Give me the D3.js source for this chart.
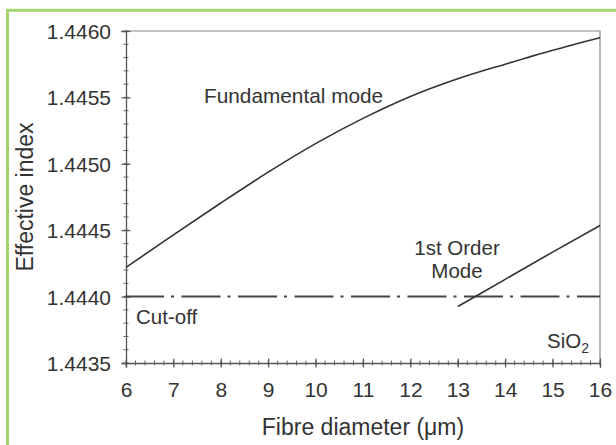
<!DOCTYPE html>
<html>
<head>
<meta charset="utf-8">
<script src="https://d3js.org/d3.v7.min.js"></script>
<style>
  body { margin: 0; background: #fff; }
  svg { display: block; }
  text { font-family: "Liberation Sans", Arial, sans-serif; fill: #333; }
</style>
</head>
<body>
<svg id="frame"></svg>
<script>
  // values
  var diameter = [6, 7, 8, 9, 10, 11, 12, 13, 14, 15, 16];
  var fundamental = [1.44422, 1.444465, 1.444705, 1.444937, 1.445152, 1.445342,
                     1.445507, 1.44564, 1.44575, 1.445855, 1.44595];
  var firstOrderDiameter = [13, 14, 15, 16];
  var firstOrder = [1.443925, 1.44413, 1.444335, 1.444535];
  var cutoff = 1.4440;
  var xTicks = [6, 7, 8, 9, 10, 11, 12, 13, 14, 15, 16];
  var yTicks = [1.4435, 1.4440, 1.4445, 1.4450, 1.4455, 1.4460];

  var width = 616, height = 445;
  var margin = {top: 31, right: 16, bottom: 82, left: 126};
  var svg = d3.select('#frame').attr('width', width).attr('height', height);

  // green border of the figure box
  svg.append('rect')
    .attr('x', 7.5).attr('y', 10.3)
    .attr('width', 700).attr('height', 600)
    .attr('fill', 'none')
    .attr('stroke', '#a6d46c')
    .attr('stroke-width', 3);

  var x = d3.scaleLinear().domain([6, 16]).range([margin.left, width - margin.right]);
  var y = d3.scaleLinear().domain([1.4435, 1.4460]).range([height - margin.bottom, margin.top]);

  // top and right frame
  svg.append('path')
    .attr('d', 'M' + x(6) + ',' + y(1.4460) + 'H' + x(16) + 'V' + y(1.4435))
    .attr('fill', 'none')
    .attr('stroke', '#888')
    .attr('stroke-width', 1.2);

  // minor ticks
  var xMinor = d3.range(6, 16.001, 0.2);
  var yMinor = d3.range(1.4435, 1.44601, 0.0001);

  svg.append('g').selectAll('line').data(xMinor).enter().append('line')
    .attr('x1', function(d){ return x(d); }).attr('x2', function(d){ return x(d); })
    .attr('y1', y(1.4435) - 2.5).attr('y2', y(1.4435) + 2.5)
    .attr('stroke', '#666').attr('stroke-width', 1);

  svg.append('g').selectAll('line').data(yMinor).enter().append('line')
    .attr('y1', function(d){ return y(d); }).attr('y2', function(d){ return y(d); })
    .attr('x1', x(6) - 2.5).attr('x2', x(6) + 2.5)
    .attr('stroke', '#666').attr('stroke-width', 1);

  // axes
  var xAxis = svg.append('g')
    .attr('transform', 'translate(0,' + y(1.4435) + ')')
    .call(d3.axisBottom(x).tickValues(xTicks).tickSize(4.5).tickPadding(0).tickFormat(d3.format('d')));
  xAxis.selectAll('line').attr('y1', -4.5).attr('stroke', '#555').attr('stroke-width', 1.2);
  xAxis.select('.domain').attr('stroke', '#555').attr('stroke-width', 1.3);
  xAxis.selectAll('text')
    .attr('y', 34).attr('dy', null)
    .style('font-size', '21px')
    .attr('fill', '#333');

  var yAxis = svg.append('g')
    .attr('transform', 'translate(' + x(6) + ',0)')
    .call(d3.axisLeft(y).tickValues(yTicks).tickSize(4.5).tickPadding(0).tickFormat(d3.format('.4f')));
  yAxis.selectAll('line').attr('x1', 4.5).attr('stroke', '#555').attr('stroke-width', 1.2);
  yAxis.select('.domain').attr('stroke', '#555').attr('stroke-width', 1.3);
  yAxis.selectAll('text')
    .attr('x', -15).attr('dy', '0.36em')
    .style('font-size', '21px')
    .attr('fill', '#333');

  // cut-off line
  svg.append('line')
    .attr('x1', x(6) - 1).attr('x2', x(16))
    .attr('y1', y(cutoff)).attr('y2', y(cutoff))
    .attr('stroke', '#444')
    .attr('stroke-width', 2)
    .attr('stroke-dasharray', '39,7,3,7.5');

  var line = d3.line().curve(d3.curveMonotoneX);

  svg.append('path')
    .attr('d', line(diameter.map(function(d, i){ return [x(d), y(fundamental[i])]; })))
    .attr('fill', 'none')
    .attr('stroke', '#333')
    .attr('stroke-width', 1.6);

  svg.append('path')
    .attr('d', line(firstOrderDiameter.map(function(d, i){ return [x(d), y(firstOrder[i])]; })))
    .attr('fill', 'none')
    .attr('stroke', '#333')
    .attr('stroke-width', 1.6);

  // annotations
  svg.append('text').attr('x', 204).attr('y', 103)
    .style('font-size', '20.8px').text('Fundamental mode');
  svg.append('text').attr('x', 457).attr('y', 255).attr('text-anchor', 'middle')
    .style('font-size', '20.5px').text('1st Order');
  svg.append('text').attr('x', 457).attr('y', 278).attr('text-anchor', 'middle')
    .style('font-size', '20.5px').text('Mode');
  svg.append('text').attr('x', 136).attr('y', 324)
    .style('font-size', '20.5px').text('Cut-off');
  var sio = svg.append('text').attr('x', 547).attr('y', 348).style('font-size', '20.5px');
  sio.append('tspan').text('SiO');
  sio.append('tspan').attr('dy', 5).style('font-size', '14px').text('2');

  // axis titles
  svg.append('text')
    .attr('x', (x(6) + x(16)) / 2).attr('y', 435)
    .attr('text-anchor', 'middle')
    .style('font-size', '23px')
    .text('Fibre diameter (\u03bcm)');

  svg.append('text')
    .attr('transform', 'translate(33,' + ((y(1.4435) + y(1.4460)) / 2) + ') rotate(-90)')
    .attr('text-anchor', 'middle')
    .style('font-size', '23px')
    .text('Effective index');
</script>
</body>
</html>
